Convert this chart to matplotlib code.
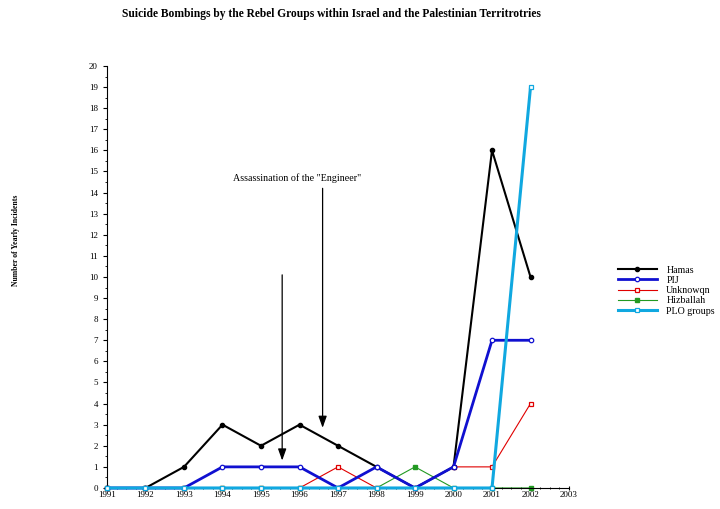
import matplotlib
matplotlib.use("Agg")
import matplotlib.pyplot as plt
from matplotlib.ticker import MultipleLocator

years = [1991, 1992, 1993, 1994, 1995, 1996, 1997, 1998, 1999, 2000, 2001, 2002]
hamas = [0, 0, 1, 3, 2, 3, 2, 1, 0, 1, 16, 10]
pij = [0, 0, 0, 1, 1, 1, 0, 1, 0, 1, 7, 7]
unknown = [0, 0, 0, 0, 0, 0, 1, 0, 0, 1, 1, 4]
hizballah = [0, 0, 0, 0, 0, 0, 0, 0, 1, 0, 0, 0]
plo = [0, 0, 0, 0, 0, 0, 0, 0, 0, 0, 0, 19]

plt.rcParams['font.family'] = ['Liberation Serif', 'DejaVu Serif']

fig = plt.figure(figsize=(7.2, 5.09), dpi=100)
ax = fig.add_axes([0.1486, 0.0413, 0.6417, 0.8291])

ax.plot(years, hamas, color='black', lw=1.5, marker='o', ms=3, mfc='black', mec='black', label='Hamas', zorder=3)
ax.plot(years, pij, color='#1010d0', lw=2.0, marker='o', ms=3.2, mfc='white', mec='#1010d0', mew=0.9, label='PIJ', zorder=4)
ax.plot(years, unknown, color='#e00000', lw=0.8, marker='s', ms=3, mfc='white', mec='#e00000', mew=0.9, label='Unknowqn', zorder=2)
ax.plot(years, hizballah, color='#229922', lw=0.8, marker='s', ms=3, mfc='#229922', mec='#229922', label='Hizballah', zorder=2)
ax.plot(years, plo, color='#10a8e0', lw=2.2, marker='s', ms=3, mfc='white', mec='#10a8e0', mew=0.9, label='PLO groups', zorder=5)

ax.set_xlim(1991, 2003)
ax.set_ylim(0, 20)
ax.xaxis.set_major_locator(MultipleLocator(1))
ax.xaxis.set_minor_locator(MultipleLocator(0.25))
ax.yaxis.set_major_locator(MultipleLocator(1))
ax.yaxis.set_minor_locator(MultipleLocator(0.5))
ax.tick_params(axis='both', which='major', labelsize=6.5, length=3, width=0.8)
ax.tick_params(axis='both', which='minor', length=1.8, width=0.6)
ax.tick_params(axis='x', which='both', direction='inout')
ax.tick_params(axis='x', which='major', pad=1)
ax.spines['top'].set_visible(False)
ax.spines['right'].set_visible(False)
ax.spines['left'].set_linewidth(0.8)
ax.spines['bottom'].set_linewidth(0.8)
for l in ax.lines:
    l.set_clip_on(False)

arrow_style = dict(arrowstyle='-|>,head_length=0.7,head_width=0.25', color='black', lw=0.9, shrinkA=0, shrinkB=0)
ax.annotate('', xy=(1995.55, 1.3), xytext=(1995.55, 10.1), arrowprops=arrow_style)
ax.annotate('', xy=(1996.6, 2.85), xytext=(1996.6, 14.2), arrowprops=arrow_style)
ax.text(1995.93, 14.45, 'Assassination of the "Engineer"', fontsize=7.2, ha='center', va='bottom')

fig.text(0.46, 0.972, 'Suicide Bombings by the Rebel Groups within Israel and the Palestinian Territrotries',
         ha='center', va='center', fontsize=8.3, fontweight='bold')
fig.text(0.022, 0.528, 'Number of Yearly Incidents', rotation=90, ha='center', va='center',
         fontsize=5.6, fontweight='bold')

leg = fig.legend(loc='center left', bbox_to_anchor=(0.851, 0.429), frameon=False, fontsize=7.2,
                 handlelength=3.9, handletextpad=0.95, labelspacing=0.12, borderpad=0)

fig.savefig('out.png', dpi=100)
